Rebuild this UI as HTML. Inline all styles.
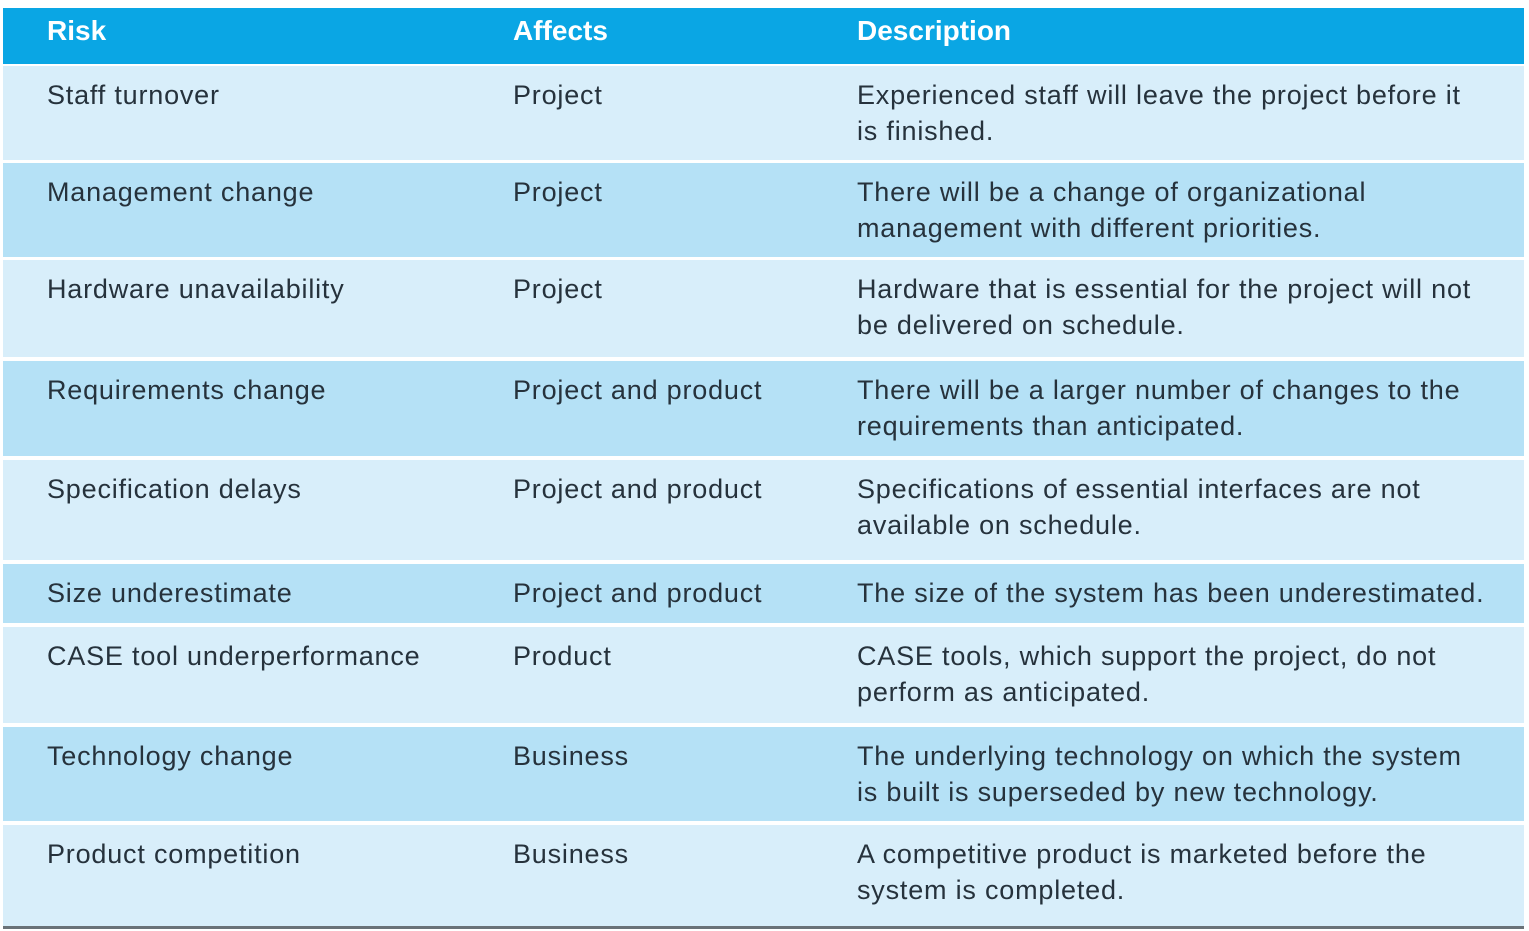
<!DOCTYPE html>
<html><head><meta charset="utf-8"><style>
body{margin:0;width:1529px;height:931px;background:#fff;position:relative;overflow:hidden;font-family:"Liberation Sans",sans-serif;}
.hdr{position:absolute;left:3px;top:8px;width:1521px;height:56px;background:#0aa6e4;}
.row{position:absolute;left:3px;width:1521px;}
.t{position:absolute;white-space:nowrap;font-size:27px;color:#26323c;line-height:36px;letter-spacing:0.8px;}
.h{position:absolute;white-space:nowrap;font-size:28px;color:#fff;font-weight:bold;top:15px;letter-spacing:0px;}
.bl{position:absolute;left:3px;top:926px;width:1521px;height:3px;background:#6a7278;}
</style></head><body>
<div class="hdr"></div>
<div class="h" style="left:47px">Risk</div>
<div class="h" style="left:513px">Affects</div>
<div class="h" style="left:857px">Description</div>
<div id="rows"></div>
<div class="bl"></div>
<script>
const rowTops=[66,163,260,361,460,564,627,727,825];
const rowBottoms=[160,257,357,456,560,623,723,821,926];
const risks=["Staff turnover","Management change","Hardware unavailability","Requirements change","Specification delays","Size underestimate","CASE tool underperformance","Technology change","Product competition"];
const affects=["Project","Project","Project","Project and product","Project and product","Project and product","Product","Business","Business"];
const descs=[["Experienced staff will leave the project before it","is finished."],["There will be a change of organizational","management with different priorities."],["Hardware that is essential for the project will not","be delivered on schedule."],["There will be a larger number of changes to the","requirements than anticipated."],["Specifications of essential interfaces are not","available on schedule."],["The size of the system has been underestimated."],["CASE tools, which support the project, do not","perform as anticipated."],["The underlying technology on which the system","is built is superseded by new technology."],["A competitive product is marketed before the","system is completed."]];
const c=document.getElementById('rows');
for(let i=0;i<risks.length;i++){
 const r=document.createElement('div');
 r.className='row';
 
 
 r.style.top=rowTops[i]+'px';r.style.height=(rowBottoms[i]-rowTops[i])+'px';
 r.style.background=i%2?'#b5e1f6':'#d8eefa';
 c.appendChild(r);
 const ty=rowTops[i]+11;
 const a=document.createElement('div');a.className='t';
 
 
 a.style.left='47px';a.style.top=ty+'px';a.textContent=risks[i];c.appendChild(a);
 const b=document.createElement('div');b.className='t';
 
 
 b.style.left='513px';b.style.top=ty+'px';b.textContent=affects[i];c.appendChild(b);
 const d=document.createElement('div');d.className='t';
 
 
 d.style.left='857px';d.style.top=ty+'px';d.innerHTML=descs[i].join('<br>');c.appendChild(d);
}
</script>
</body></html>
